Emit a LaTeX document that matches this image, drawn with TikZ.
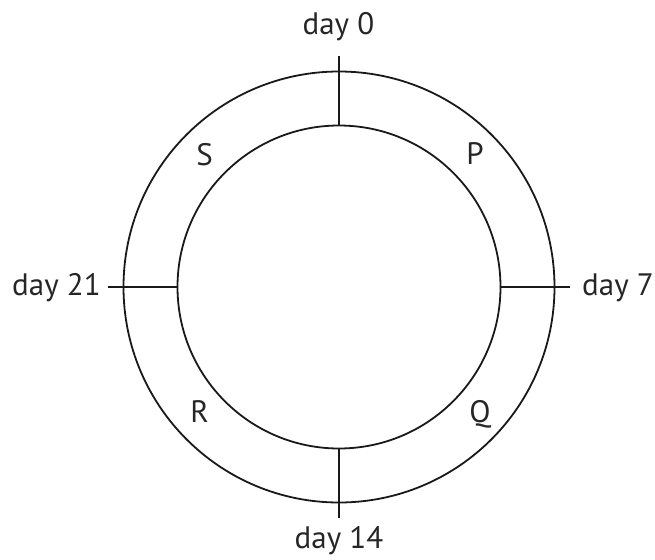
\documentclass[tikz,border=0pt]{standalone}
\usepackage{fontspec}
\setmainfont{PT Sans}
\begin{document}
\begin{tikzpicture}[x=1pt,y=-1pt,
  ring/.style={line width=1.8pt, draw=black!90},
  tick/.style={line width=1.8pt, draw=black!90},
  lbl/.style={font=\fontsize{31}{36}\selectfont, text=black!85, inner sep=0pt, anchor=base}]
\useasboundingbox (0,0) rectangle (655,559);
\coordinate (c) at (339,287);
\draw[ring] (c) circle[radius=215.5];
\draw[ring] (c) circle[radius=161.5];
% ticks
\coordinate (t0a) at (339,125.5); \coordinate (t0b) at (339,56);
\coordinate (t7a) at (500.5,287); \coordinate (t7b) at (570,287);
\coordinate (t14a) at (339,448.5); \coordinate (t14b) at (339,518);
\coordinate (t21a) at (177.5,287); \coordinate (t21b) at (108,287);
\draw[tick] (t0a) -- (t0b);
\draw[tick] (t7a) -- (t7b);
\draw[tick] (t14a) -- (t14b);
\draw[tick] (t21a) -- (t21b);
% labels
\node[lbl] (d0) at (338.5,35) {day 0};
\node[lbl, anchor=base west] (d7) at (582,295) {day 7};
\node[lbl] (d14) at (339,548) {day 14};
\node[lbl, anchor=base west] (d21) at (12,295) {day 21};
\node[lbl] (S) at (204.5,165) {S};
\node[lbl] (P) at (475,164) {P};
\node[lbl] (R) at (199.5,422) {R};
\node[lbl] (Q) at (480,422) {Q};
\end{tikzpicture}
\end{document}
